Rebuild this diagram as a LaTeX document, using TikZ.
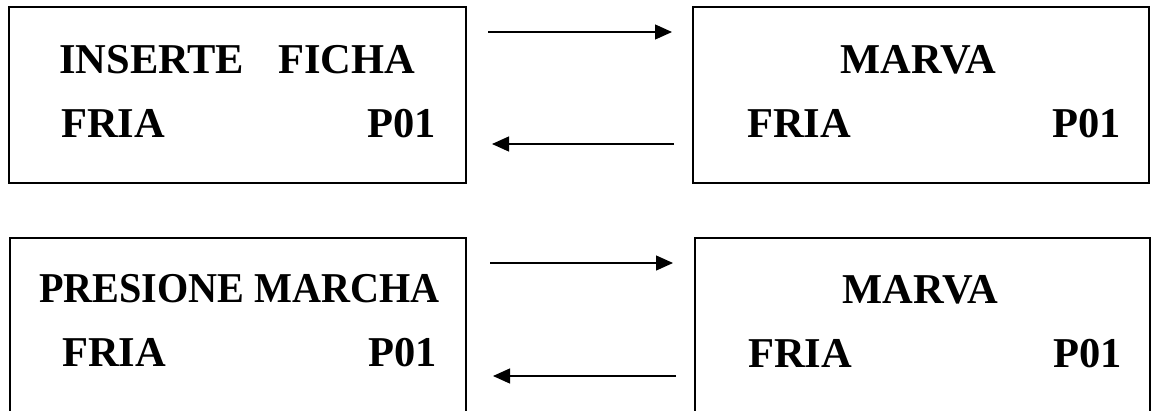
\documentclass[tikz,border=0pt]{standalone}
\usepackage{fontspec}
\usepackage{graphicx}
\setmainfont{Liberation Serif}
\usetikzlibrary{arrows.meta}
\begin{document}
\begin{tikzpicture}[x=1pt,y=-1pt,
  screen/.style={draw, line width=1.5pt, minimum width=457pt, minimum height=176pt, inner sep=0pt, outer sep=0pt},
  lbl/.style={anchor=base west, inner sep=0pt, font=\fontsize{42.5}{42.5}\selectfont\bfseries},
  arr/.style={line width=1.3pt, -{Triangle[length=17pt,width=15pt]}}]
\useasboundingbox (0,0) rectangle (1152,410);
\clip (0,0) rectangle (1152,410);
\node[screen] (tl) at (237.5,95) {};
\node[screen, minimum width=456pt] (tr) at (921,95) {};
\node[screen, minimum width=456pt] (bl) at (238,326) {};
\node[screen, minimum width=455pt] (br) at (922.5,326) {};
% texts
\node[lbl] (t1a) at (59,73) {INSERTE\hspace{0.8em}FICHA};
\node[lbl] (t1b) at (61,137) {FRIA};
\node[lbl] (t1c) at (367,137) {P01};
\node[lbl] (t2a) at (840,73) {MARVA};
\node[lbl] (t2b) at (747,137) {FRIA};
\node[lbl] (t2c) at (1052,137) {P01};
\node[lbl] (t3a) at (39,302) {\scalebox{0.945}[1]{PRESIONE MARCHA}};
\node[lbl] (t3b) at (62,366) {FRIA};
\node[lbl] (t3c) at (368,366) {P01};
\node[lbl] (t4a) at (842,303) {MARVA};
\node[lbl] (t4b) at (748,367) {FRIA};
\node[lbl] (t4c) at (1053,367) {P01};
% arrows
\draw[arr, shorten <=22pt, shorten >=21pt] ([yshift=-25pt]tl.north east) -- ([yshift=-25pt]tr.north west);
\draw[arr, shorten <=19pt, shorten >=26pt] ([yshift=-137pt]tr.north west) -- ([yshift=-137pt]tl.north east);
\draw[arr, shorten <=24pt, shorten >=22pt] ([yshift=-25pt]bl.north east) -- ([yshift=-25pt]br.north west);
\draw[arr, shorten <=19pt, shorten >=27pt] ([yshift=-138pt]br.north west) -- ([yshift=-138pt]bl.north east);
\end{tikzpicture}
\end{document}
